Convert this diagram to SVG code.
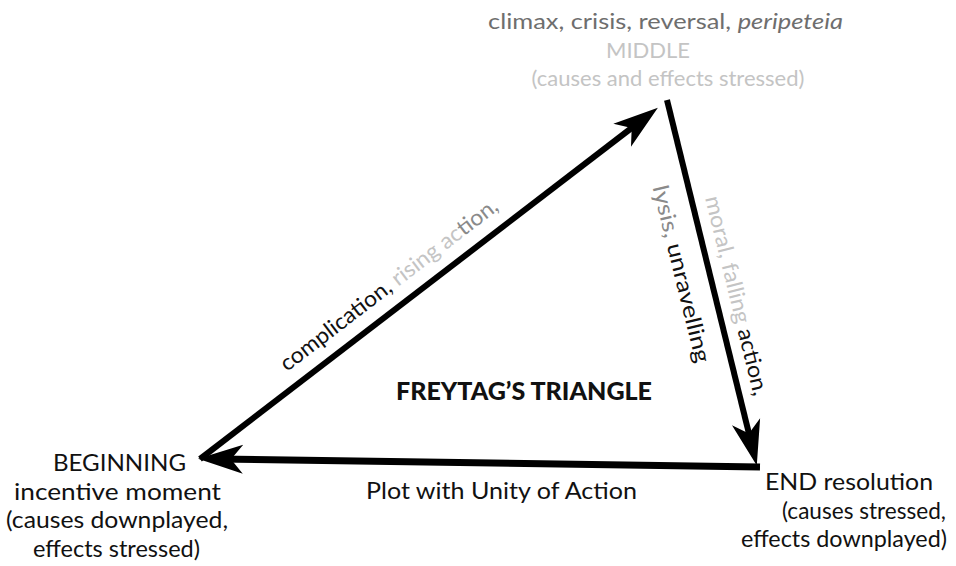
<svg xmlns="http://www.w3.org/2000/svg" width="956" height="566" viewBox="0 0 956 566">
  <style>
    text { font-family: Lato, "Open Sans", "Noto Sans", sans-serif; fill: #111; }
    .lbl { font-size: 23px; }
    .side { font-size: 22px; }
    .title { font-size: 25px; font-weight: 900; }
    .top { font-size: 22px; fill: #6e6e6e; }
    .faint { fill: #c4c4c4; }
    .mid { fill: #8a8a8a; }
    .edge { stroke: #000; fill: none; stroke-linecap: butt; }
  </style>
  <defs>
    <marker id="arr" markerUnits="userSpaceOnUse" orient="auto" refX="0" refY="0" markerWidth="80" markerHeight="40" viewBox="-30 -20 60 40" overflow="visible">
      <path d="M20,0 L-25,-14.5 L-13,0 L-25,14.5 Z" fill="#000"/>
    </marker>
  </defs>

  <rect x="0" y="0" width="956" height="566" fill="#fff"/>

  <g id="connectors">
    <line id="rising" class="edge" x1="200" y1="459" x2="642" y2="120" stroke-width="6" marker-end="url(#arr)"/>
    <line id="falling" class="edge" x1="667" y1="100" x2="752" y2="446" stroke-width="6" marker-end="url(#arr)"/>
    <line id="plot" class="edge" x1="760" y1="467" x2="218" y2="459" stroke-width="7" marker-end="url(#arr)"/>
  </g>

  <g id="climax">
    <text class="top" x="488" y="29" textLength="355" lengthAdjust="spacingAndGlyphs">climax, crisis, reversal, <tspan font-style="italic">peripeteia</tspan></text>
    <text class="top faint" x="648" y="58" text-anchor="middle" font-size="19">MIDDLE</text>
    <text class="top faint" x="668" y="86" text-anchor="middle" font-size="19">(causes and effects stressed)</text>
  </g>

  <g id="rising-label">
    <text class="side" transform="translate(287,372) rotate(-37.46)" textLength="268" lengthAdjust="spacingAndGlyphs">complication, <tspan class="faint">rising ac</tspan><tspan class="mid">tion,</tspan></text>
  </g>

  <g id="falling-labels">
    <text class="side" text-anchor="end" transform="translate(696,364) rotate(76.15)" textLength="182" lengthAdjust="spacingAndGlyphs"><tspan class="mid">lysis,</tspan> unravelling</text>
    <text class="side" text-anchor="end" transform="translate(754,397) rotate(76.15)" textLength="205" lengthAdjust="spacingAndGlyphs"><tspan class="faint">moral, falling</tspan> action,</text>
  </g>

  <g id="title">
    <text class="title" x="396" y="400" textLength="256" lengthAdjust="spacingAndGlyphs">FREYTAG’S TRIANGLE</text>
  </g>

  <g id="beginning">
    <text class="lbl" x="53" y="471" textLength="133" lengthAdjust="spacingAndGlyphs">BEGINNING</text>
    <text class="lbl" x="14" y="499.5" textLength="207" lengthAdjust="spacingAndGlyphs">incentive moment</text>
    <text class="lbl" x="6" y="528" textLength="222" lengthAdjust="spacingAndGlyphs">(causes downplayed,</text>
    <text class="lbl" x="33" y="556.5" textLength="167" lengthAdjust="spacingAndGlyphs">effects stressed)</text>
  </g>

  <g id="plot-label">
    <text class="lbl" x="366" y="499" textLength="271" lengthAdjust="spacingAndGlyphs">Plot with Unity of Action</text>
  </g>

  <g id="end">
    <text class="lbl" x="765" y="490" textLength="168" lengthAdjust="spacingAndGlyphs">END resolution</text>
    <text class="lbl" x="782" y="518.5" textLength="164" lengthAdjust="spacingAndGlyphs">(causes stressed,</text>
    <text class="lbl" x="741" y="547" textLength="206" lengthAdjust="spacingAndGlyphs">effects downplayed)</text>
  </g>
</svg>
